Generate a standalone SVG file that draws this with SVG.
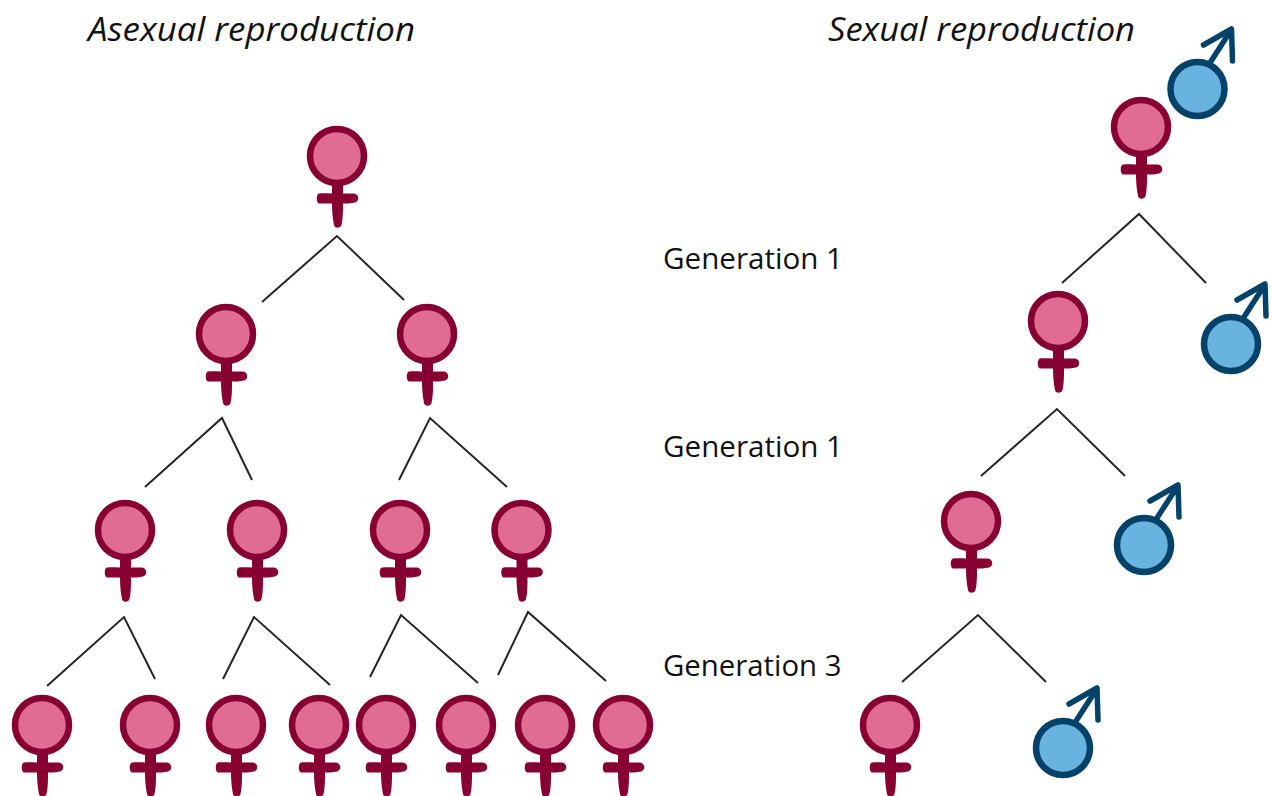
<svg xmlns="http://www.w3.org/2000/svg" width="1272" height="796" viewBox="0 0 1272 796">
<style>
.t{font-family:"Open Sans","Noto Sans","Liberation Sans",sans-serif;fill:#111}
.h{font-size:32.5px;font-style:italic}
.g{font-size:30px}
#conn path{fill:none;stroke:#262626;stroke-width:2}
.fc{fill:#e06b93;stroke:#870032;stroke-width:6.5}
.fx{fill:#870032;stroke:none}
.mc{fill:#69b3e0;stroke:#04426a;stroke-width:6.5}
.ma{fill:none;stroke:#04426a;stroke-width:5.5;stroke-linecap:round;stroke-linejoin:round}
</style>
<defs>
<g id="f"><circle class="fc" cx="0" cy="0" r="27"/><path class="fx" d="M-5 26L6 26L6 37.5L17 37.5C22 38 23 45 18 46.5C14 47.5 9 47.5 6 47.5C6 55 6 63 4.5 69C3.5 72.5-2.5 72.5-3 69C-4.5 62-5 54-5 47.5L-18 47.5C-21 47-21 38-18 37.5C-14 37-9 37.5-5 37.5Z"/></g>
<g id="m"><path class="ma" d="M13-27L33-58M6-44L34-60L35-28"/><circle class="mc" cx="0" cy="0" r="27"/></g>
</defs>
<text class="t h" x="88" y="41" textLength="327" lengthAdjust="spacingAndGlyphs">Asexual reproduction</text>
<text class="t h" x="828" y="41" textLength="307" lengthAdjust="spacingAndGlyphs">Sexual reproduction</text>
<text class="t g" x="663" y="269" textLength="180" lengthAdjust="spacingAndGlyphs">Generation 1</text>
<text class="t g" x="663" y="457" textLength="180" lengthAdjust="spacingAndGlyphs">Generation 1</text>
<text class="t g" x="663" y="676" textLength="178.5" lengthAdjust="spacingAndGlyphs">Generation 3</text>
<g id="conn">
<path d="M262 302L337 236L404 300"/>
<path d="M145 487L222 418L252 480"/>
<path d="M399 480L430 418L507 487"/>
<path d="M47 686L124 617L155 679"/>
<path d="M223 679L254 617L330 685"/>
<path d="M370 677L401 615L478 683"/>
<path d="M498 675L528 612L606 681"/>
<path d="M1062 283L1139 214L1206 283"/>
<path d="M981 476L1057 409L1125 476"/>
<path d="M902 682L978 615L1046 682"/>
</g>
<g id="a1"><use href="#f" x="337" y="156"/></g>
<g id="a2"><use href="#f" x="226" y="334"/></g>
<g id="a3"><use href="#f" x="427" y="334"/></g>
<g id="a4"><use href="#f" x="125" y="530"/></g>
<g id="a5"><use href="#f" x="257" y="530"/></g>
<g id="a6"><use href="#f" x="400" y="530"/></g>
<g id="a7"><use href="#f" x="521.5" y="530"/></g>
<g id="a8"><use href="#f" x="42" y="725"/></g>
<g id="a9"><use href="#f" x="150" y="725"/></g>
<g id="a10"><use href="#f" x="236" y="725"/></g>
<g id="a11"><use href="#f" x="319" y="725"/></g>
<g id="a12"><use href="#f" x="386" y="725"/></g>
<g id="a13"><use href="#f" x="466" y="725"/></g>
<g id="a14"><use href="#f" x="545" y="725"/></g>
<g id="a15"><use href="#f" x="623" y="725"/></g>
<g id="s1"><use href="#f" x="1141" y="127"/></g>
<g id="s2"><use href="#m" x="1197.5" y="89"/></g>
<g id="s3"><use href="#f" x="1058" y="321"/></g>
<g id="s4"><use href="#m" x="1231" y="344"/></g>
<g id="s5"><use href="#f" x="971" y="521"/></g>
<g id="s6"><use href="#m" x="1144" y="545"/></g>
<g id="s7"><use href="#f" x="890" y="725"/></g>
<g id="s8"><use href="#m" x="1063" y="748"/></g>
</svg>
